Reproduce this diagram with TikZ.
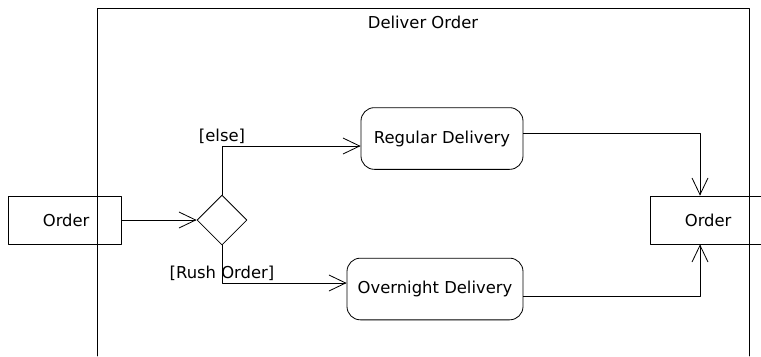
\documentclass[tikz,border=0pt]{standalone}
\usepackage{fontspec}
\setmainfont{DejaVu Sans}
\usetikzlibrary{arrows.meta, calc, shapes.geometric}

\begin{document}
\begin{tikzpicture}[x=0.03cm, y=-0.03cm, >={Straight Barb[length=5mm,width=4.8mm]},
	line width=0.7pt, line cap=round, line join=round,
	font=\fontsize{14}{16}\selectfont,
	pin/.style={draw, rectangle, minimum width=#1, minimum height=1.44cm, inner sep=0pt},
	action/.style={draw, rectangle, rounded corners=0.4cm, minimum height=1.85cm, inner sep=0pt},
	decision/.style={draw, diamond, minimum width=1.5cm, minimum height=1.5cm, inner sep=0pt},
	guard/.style={above, inner sep=2pt}]
	
	\useasboundingbox (0,0) rectangle (761,356);
	
	%========================
	% activity frame
	%========================
	\draw (97,356) -- (97,8) -- (749,8) -- (749,356);
	\node (title) at (423,22) {Deliver Order};
	
	%========================
	% pins and nodes
	%========================
	\node[pin=3.39cm, fill=white] (inpin) at (64.5,220) {\hspace{0.1cm}Order};
	\draw (97,196) -- (97,244); % frame line over the pin
	\node[pin=3.39cm, fill=white] (outpin) at (706.5,220) {\hspace{0.1cm}Order};
	\draw (749,196) -- (749,244);
	
	\node[decision] (dec) at (222,220) {};
	\node[action, minimum width=4.86cm] (reg) at (442,138.5) {Regular Delivery};
	\node[action, minimum width=5.28cm] (over) at (435,289) {Overnight Delivery};
	
	%========================
	% flows
	%========================
	\draw[->] (inpin.east) -- (dec.west);
	\draw[->] (dec.north) |- node[guard] {[else]} ($(reg.west)+(0,7.5)$);
	\draw[->] (dec.south) |- node[guard] {[Rush Order]} ($(over.west)+(0,-6)$);
	\draw[->] ($(reg.east)+(0,-5.5)$) -| ($(outpin.north)+(-6.5,0)$);
	\draw[->] ($(over.east)+(0,7)$) -| ($(outpin.south)+(-6.5,0)$);
	
\end{tikzpicture}
\end{document}
